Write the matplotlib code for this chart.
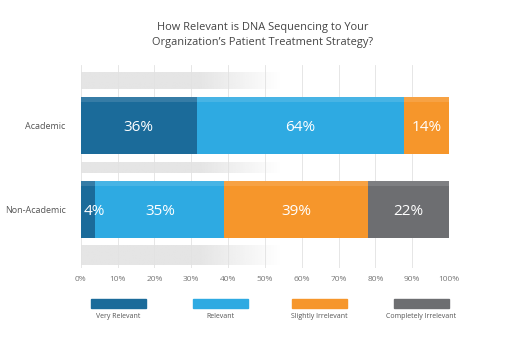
import numpy as np
import matplotlib
matplotlib.use('Agg')
import matplotlib.pyplot as plt
from matplotlib.patches import Rectangle
from matplotlib.colors import to_rgb

plt.rcParams['font.family'] = ['Open Sans', 'DejaVu Sans']

# survey answers (percent as printed on each segment)
groups = ['Academic', 'Non-Academic']
answers = ['Very Relevant', 'Relevant', 'Slightly Irrelevant', 'Completely Irrelevant']
academic = [36, 64, 14, 0]
non_academic = [4, 35, 39, 22]
colors = ['#1b6b9a', '#2eaae2', '#f6962b', '#6d6e71']
ticks = [0, 10, 20, 30, 40, 50, 60, 70, 80, 90, 100]
tick_labels = ['%d%%' % t for t in ticks]

rows = [academic, non_academic]

fig = plt.figure(figsize=(5.12, 3.49), dpi=100)
ax = fig.add_axes([80.7 / 512, 1 - 268 / 349, (449 - 80.7) / 512, 203 / 349])
ax.set_xlim(0, 100)
ax.set_ylim(1.70, -0.72)

# faded grey strips between the bars
fade = np.ones((1, 200, 4))
fade[..., :3] = to_rgb('#e5e5e5')
xs = np.linspace(0, 100, 200)
fade[0, :, 3] = np.clip((54 - xs) / 22, 0, 1)
for yc, h in [(-0.53, 0.20), (0.50, 0.125), (1.546, 0.23)]:
    ax.imshow(fade, extent=[0, 100, yc + h / 2, yc - h / 2], aspect='auto', zorder=0)

for t in ticks:
    ax.axvline(t, color='#e2e2e2', lw=0.6, zorder=1)

bar_h = 0.68
for i, vals in enumerate(rows):
    total = float(sum(vals))
    left = 0.0
    for j, v in enumerate(vals):
        if v == 0:
            continue
        w = v / total * 100
        ax.barh(i, w, left=left, height=bar_h, color=colors[j], zorder=2)
        # lighter band along the top edge
        ax.barh(i - bar_h / 2 + 0.03, w, left=left, height=0.06, color='white', alpha=0.12, zorder=3)
        if w < 8:
            # narrow segment: start the label just inside the bar
            ax.text(left + 0.9, i + 0.03, '%d%%' % v, color='white', fontsize=11,
                    ha='left', va='center', zorder=4)
        else:
            ax.text(left + w / 2, i + 0.03, '%d%%' % v, color='white', fontsize=11,
                    ha='center', va='center', zorder=4)
        left += w

ax.set_xticks(ticks)
ax.set_xticklabels(tick_labels, fontsize=6, color='#777777')
ax.set_yticks(range(len(groups)))
ax.set_yticklabels(groups, fontsize=6.5, color='#555555')
ax.tick_params(length=0, pad=6)
ax.tick_params(axis='y', pad=11)
for s in ax.spines.values():
    s.set_visible(False)

fig.text(263 / 512, 1 - 35 / 349,
         'How Relevant is DNA Sequencing to Your\nOrganization\u2019s Patient Treatment Strategy?',
         ha='center', va='center', fontsize=7.9, color='#444444', linespacing=1.4)

# legend: swatch with its label underneath
lax = fig.add_axes([0, 0, 1, 1])
lax.set_xlim(0, 512)
lax.set_ylim(349, 0)
lax.axis('off')
for k, name in enumerate(answers):
    cx = [118, 220, 319, 421][k]
    lax.add_patch(Rectangle((cx - 27.5, 299), 55, 8.5, color=colors[k]))
    lax.text(cx, 316, name, ha='center', va='center', fontsize=5, color='#555555')

fig.savefig('out.png', dpi=100, facecolor='white')
